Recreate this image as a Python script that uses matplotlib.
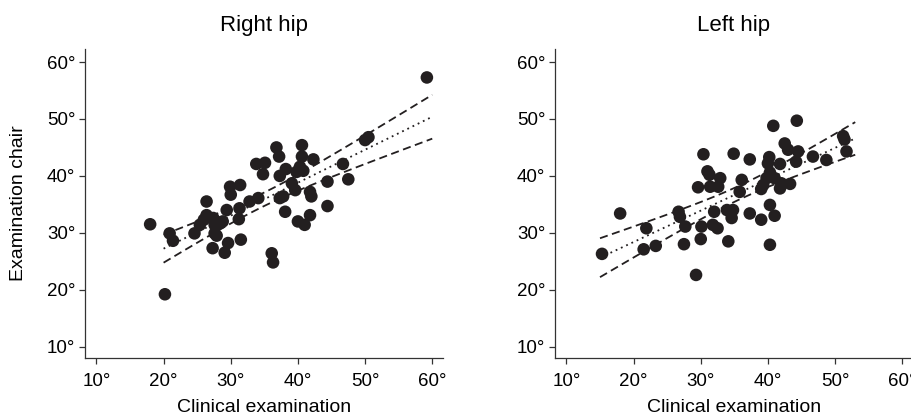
import numpy as np
import matplotlib
matplotlib.use("Agg")
import matplotlib.pyplot as plt
from matplotlib.ticker import FixedLocator, FuncFormatter

# ---------------- data ----------------
right_clin = [18.0, 20.2, 20.9, 21.4, 24.6, 25.4, 26.0, 26.4, 26.4, 27.4, 27.6, 27.6, 27.9,
              27.3, 28.4, 28.8, 29.4, 29.6, 29.1, 29.9, 30.0, 31.4, 31.3, 31.2, 31.5, 32.8,
              34.1, 33.8, 35.1, 34.8, 36.8, 37.2, 37.3, 38.2, 36.1, 36.3, 37.3, 38.1, 39.1,
              39.6, 40.6, 40.0, 40.6, 42.3, 40.3, 39.8, 40.8, 41.8, 42.0, 37.8, 41.8, 41.0,
              44.4, 47.5, 44.4, 46.7, 50.0, 50.5, 59.2]
right_chair = [31.5, 19.2, 29.9, 28.6, 29.9, 31.4, 32.3, 35.5, 33.1, 32.6, 31.4, 29.9, 29.5,
               27.3, 31.7, 32.0, 34.0, 28.2, 26.5, 38.1, 36.7, 38.4, 34.3, 32.4, 28.8, 35.5,
               36.1, 42.1, 42.3, 40.3, 45.0, 43.4, 40.0, 41.2, 26.4, 24.8, 36.1, 33.7, 38.7,
               37.5, 45.4, 32.0, 43.4, 42.9, 41.6, 40.7, 40.9, 37.2, 36.4, 36.4, 33.1, 31.4,
               39.0, 39.4, 34.7, 42.1, 46.3, 46.8, 57.3]

left_clin = [15.3, 18.0, 21.9, 21.5, 23.3, 26.7, 26.9, 27.7, 27.5, 29.3, 29.6, 30.4, 31.0,
             31.3, 31.4, 30.1, 30.0, 32.0, 31.8, 32.5, 32.9, 32.6, 34.9, 34.1, 33.9, 34.8,
             34.6, 35.8, 36.1, 40.8, 44.3, 42.5, 43.0, 44.5, 44.2, 46.7, 48.7, 51.2, 51.4,
             51.7, 37.3, 40.2, 40.0, 41.8, 40.3, 39.8, 41.0, 39.3, 42.0, 43.3, 39.0, 41.8,
             37.3, 39.0, 40.3, 41.0, 40.3]
left_chair = [26.3, 33.4, 30.8, 27.1, 27.7, 33.7, 32.8, 31.1, 28.0, 22.6, 38.0, 43.8, 40.8,
              40.2, 38.1, 31.1, 28.9, 33.7, 31.4, 30.8, 39.6, 38.1, 43.9, 28.5, 34.0, 34.0,
              32.6, 37.2, 39.3, 48.8, 49.7, 45.7, 44.6, 44.3, 42.5, 43.4, 42.8, 47.0, 46.4,
              44.3, 42.9, 43.3, 42.2, 42.1, 40.6, 39.6, 39.6, 38.4, 38.7, 38.6, 37.7, 37.8,
              33.4, 32.3, 34.9, 33.0, 27.9]

titles = ["Right hip", "Left hip"]
line_ranges = [(20, 60), (15, 53)]
tick_values = [10, 20, 30, 40, 50, 60]

# ---------------- figure ----------------
W, H = 912, 416
fig = plt.figure(figsize=(W / 100, H / 100), dpi=100)
plt.rcParams['font.family'] = ['Liberation Sans', 'DejaVu Sans']

ink = '#231f20'
ax_w, ax_h = 358 / W, 309 / H
bottom = (H - 358) / H
axes = [fig.add_axes([85 / W, bottom, ax_w, ax_h]),
        fig.add_axes([555 / W, bottom, ax_w, ax_h])]

datasets = [(right_clin, right_chair), (left_clin, left_chair)]

for i, ax in enumerate(axes):
    x = np.asarray(datasets[i][0])
    y = np.asarray(datasets[i][1])
    ax.scatter(x, y, s=82, color=ink, edgecolors='none', zorder=3)

    # linear regression with 95% confidence band
    n = len(x)
    b, a = np.polyfit(x, y, 1)
    resid = y - (a + b * x)
    s = np.sqrt(np.sum(resid ** 2) / (n - 2))
    xm = x.mean()
    sxx = np.sum((x - xm) ** 2)
    xx = np.linspace(line_ranges[i][0], line_ranges[i][1], 100)
    yy = a + b * xx
    se = s * np.sqrt(1 / n + (xx - xm) ** 2 / sxx)
    t = 2.0
    ax.plot(xx, yy, color=ink, lw=1.3, linestyle=(0, (1, 2.2)), zorder=4)
    ax.plot(xx, yy + t * se, color=ink, lw=1.3, linestyle=(0, (4.5, 2.5)), zorder=4)
    ax.plot(xx, yy - t * se, color=ink, lw=1.3, linestyle=(0, (4.5, 2.5)), zorder=4)

    ax.set_xlim(8.3, 61.6)
    ax.set_ylim(8.0, 62.3)
    for sp in ['top', 'right']:
        ax.spines[sp].set_visible(False)
    for sp in ['left', 'bottom']:
        ax.spines[sp].set_linewidth(0.9)
        ax.spines[sp].set_color('#333333')
    ax.xaxis.set_major_locator(FixedLocator(tick_values))
    ax.yaxis.set_major_locator(FixedLocator(tick_values))
    fmt = FuncFormatter(lambda v, p: f"{int(v)}°")
    ax.xaxis.set_major_formatter(fmt)
    ax.yaxis.set_major_formatter(fmt)
    ax.tick_params(direction='out', length=4, width=0.9, color='#333333',
                   labelsize=13.5, pad=3, labelcolor='black')
    ax.tick_params(axis='x', pad=7)
    ax.set_title(titles[i], fontsize=16, pad=13)
    ax.set_xlabel("Clinical examination", fontsize=14, labelpad=6)
    if i == 0:
        ax.set_ylabel("Examination chair", fontsize=14, labelpad=14)

fig.savefig("out.png", dpi=100)
